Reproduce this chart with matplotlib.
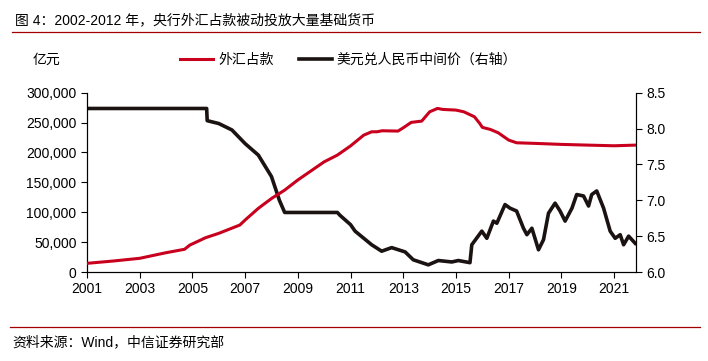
import matplotlib.pyplot as plt
import matplotlib.ticker as mticker

plt.rcParams['font.family'] = ['Liberation Sans', 'Noto Sans CJK SC', 'DejaVu Sans']

# 外汇占款（亿元），左轴
fx_t = [2001.0, 2002.0, 2003.0, 2004.0, 2004.7, 2004.9, 2005.5, 2006.0, 2006.8,
        2007.0, 2007.5, 2008.0, 2008.5, 2009.0, 2010.0, 2010.5, 2011.0, 2011.5,
        2011.8, 2012.0, 2012.2, 2012.8, 2013.0, 2013.3, 2013.7, 2014.0, 2014.3,
        2014.5, 2015.0, 2015.3, 2015.7, 2015.9, 2016.0, 2016.3, 2016.6, 2017.0,
        2017.3, 2018.0, 2019.0, 2020.0, 2021.0, 2021.8]
fx_v = [14500, 18400, 22900, 32300, 38000, 45000, 57400, 64700, 78600,
        87000, 106500, 123000, 137000, 154000, 184400, 195600, 211000, 229000,
        234600, 234600, 236300, 235800, 241300, 250300, 252500, 268000, 273700,
        272000, 270900, 268000, 259700, 248600, 242000, 238600, 233000, 220700,
        216200, 215200, 213500, 212300, 211200, 212300]

# 美元兑人民币中间价，右轴
usd_t = [2001.0, 2005.54, 2005.56, 2006.0, 2006.5, 2007.0, 2007.5, 2008.0, 2008.3,
         2008.5, 2009.0, 2010.5, 2010.6, 2011.0, 2011.17, 2011.8, 2012.18, 2012.56,
         2013.07, 2013.38, 2013.95, 2014.33, 2014.84, 2015.09, 2015.53, 2015.6,
         2015.98, 2016.17, 2016.42, 2016.55, 2016.86, 2017.05, 2017.3, 2017.56,
         2017.69, 2017.88, 2018.13, 2018.32, 2018.51, 2018.76, 2018.95, 2019.14,
         2019.4, 2019.58, 2019.84, 2020.03, 2020.15, 2020.34, 2020.6, 2020.85,
         2021.04, 2021.23, 2021.36, 2021.55, 2021.8]
usd_v = [8.28, 8.28, 8.11, 8.07, 7.98, 7.79, 7.63, 7.33, 7.00,
         6.83, 6.83, 6.83, 6.79, 6.66, 6.57, 6.38, 6.29, 6.34,
         6.28, 6.17, 6.10, 6.16, 6.14, 6.16, 6.13, 6.38,
         6.57, 6.47, 6.71, 6.68, 6.94, 6.89, 6.85, 6.61,
         6.52, 6.61, 6.31, 6.45, 6.82, 6.96, 6.85, 6.71,
         6.89, 7.08, 7.06, 6.92, 7.08, 7.13, 6.89, 6.57,
         6.47, 6.52, 6.38, 6.50, 6.40]

year_ticks = list(range(2001, 2022, 2))

fig = plt.figure(figsize=(7.08, 3.61), dpi=100)
ax = fig.add_axes([87/708, 1-272/361, (636-87)/708, (272-92.7)/361])
ax2 = ax.twinx()

red = '#C8001E'
l1, = ax.plot(fx_t, fx_v, color=red, lw=2.2, label='外汇占款', zorder=3)
l2, = ax2.plot(usd_t, usd_v, color='#1a1311', lw=2.6, label='美元兑人民币中间价（右轴）')
ax.set_zorder(ax2.get_zorder() + 1)
ax.patch.set_visible(False)

ax.set_xlim(2001, 2021.83)
ax.set_ylim(0, 300000)
ax2.set_ylim(6.0, 8.5)
ax.set_xticks(year_ticks)
ax.set_yticks(range(0, 300001, 50000))
ax.yaxis.set_major_formatter(mticker.FuncFormatter(lambda v, p: f'{int(v):,}'))
ax2.set_yticks([6.0, 6.5, 7.0, 7.5, 8.0, 8.5])
ax2.yaxis.set_major_formatter(mticker.FormatStrFormatter('%.1f'))

for a in (ax, ax2):
    a.spines['top'].set_visible(False)
    for s in a.spines.values():
        s.set_linewidth(0.8)
    a.tick_params(labelsize=10, length=4, width=0.8, direction='out', colors='black')
ax.tick_params(axis='x', pad=3)

fig.text(15/708, 1-20/361, '图 4：2002-2012 年，央行外汇占款被动投放大量基础货币',
         fontsize=10, va='center', ha='left')
fig.add_artist(plt.Line2D([12/708, 700/708], [1-31.5/361, 1-31.5/361], color='#A00000', lw=0.9))
fig.add_artist(plt.Line2D([10/708, 700/708], [1-327/361, 1-327/361], color='#A00000', lw=0.9))
fig.text(12/708, 1-342/361, '资料来源：Wind，中信证券研究部', fontsize=10, va='center', ha='left')
fig.text(33/708, 1-60/361, '亿元', fontsize=10, va='center', ha='left',
         family=['Noto Sans CJK SC', 'DejaVu Sans'])

fig.legend(handles=[l1, l2], loc='center left', bbox_to_anchor=(180/708, 1-60/361),
           ncol=2, frameon=False, borderpad=0, borderaxespad=0, handlelength=2.4,
           handletextpad=0.35, columnspacing=1.8,
           prop={'family': ['Noto Sans CJK SC', 'DejaVu Sans'], 'size': 10})

fig.savefig('out.png', dpi=100)
